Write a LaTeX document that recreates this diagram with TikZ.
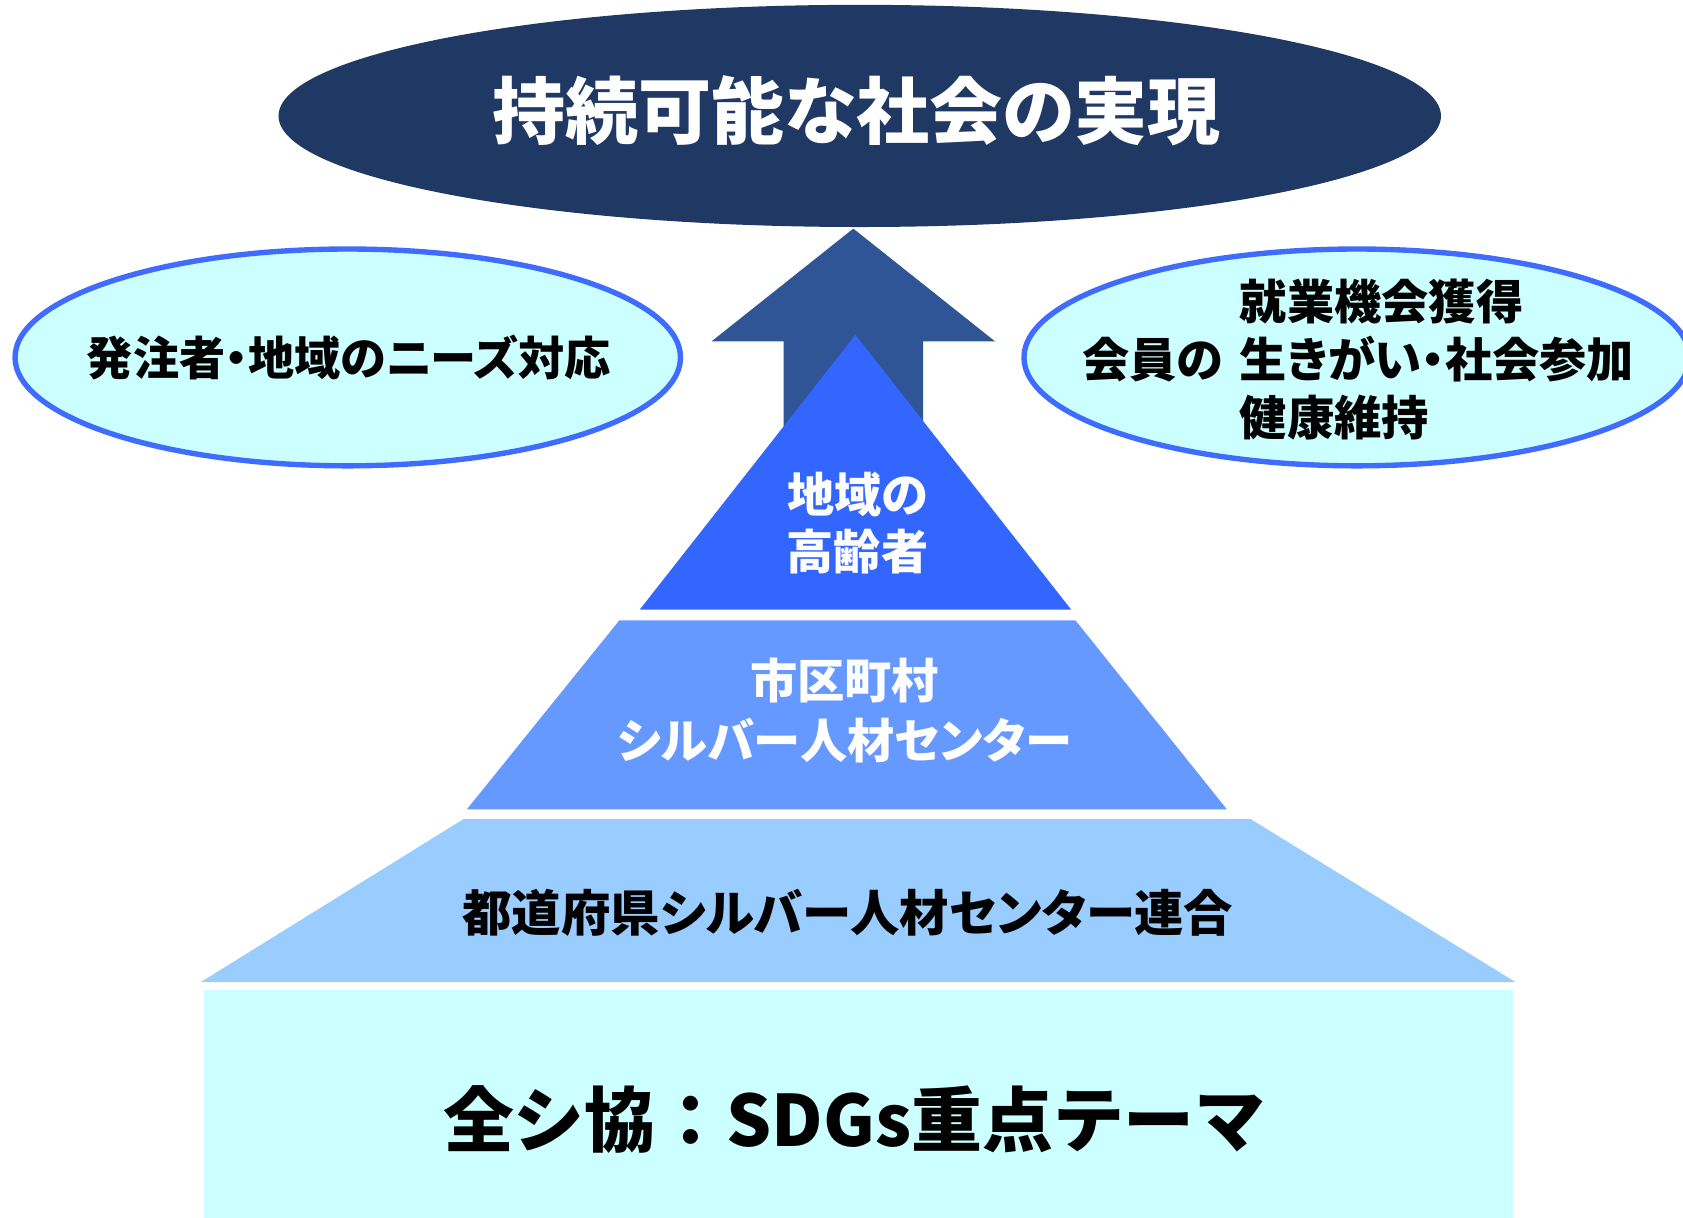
\documentclass[tikz,border=0pt]{standalone}
\usepackage{fontspec}
\setmainfont{Noto Sans CJK JP}[RawFeature={+palt}]
\newfontfamily\jpfull{Noto Sans CJK JP}
\usetikzlibrary{shapes.geometric}
\definecolor{navy}{HTML}{203864}
\definecolor{arrowblue}{HTML}{2F5597}
\definecolor{tierone}{HTML}{3366FF}
\definecolor{tiertwo}{HTML}{6699FF}
\definecolor{tierthree}{HTML}{99CCFF}
\definecolor{paleCyan}{HTML}{CCFFFF}
\definecolor{ringblue}{HTML}{3F6BFF}
\tikzset{
  txt/.style={font=\bfseries, inner sep=0pt, align=center},
  bubble/.style={ellipse, fill=paleCyan, draw=ringblue, line width=5pt, inner sep=0pt},
}
\begin{document}
\begin{tikzpicture}[x=1pt,y=-1pt]
\useasboundingbox (0,0) rectangle (1568,1134);
\clip (0,0) rectangle (1568,1134);
% base rectangle
\fill[paleCyan] (190,922) rectangle (1410,1140);
\node[txt, font=\jpfull\bfseries\fontsize{66}{70}\selectfont] (theme) at (796,1043) {全シ協：SDGs重点テーマ};
% bottom tier
\fill[tierthree] (187,915) -- (432,763) -- (1165,763) -- (1412,915) -- cycle;
\node[txt, font=\bfseries\fontsize{46}{54}\selectfont] (rengo) at (790,850) {都道府県シルバー人材センター連合};
% middle tier
\fill[tiertwo] (435,754) -- (577,578) -- (1002,578) -- (1143,754) -- cycle;
\node[txt, text=white, font=\bfseries\fontsize{44}{56}\selectfont] (center) at (787,662) {市区町村\\シルバー人材センター};
% arrow
\fill[arrowblue] (795,213) -- (927,318) -- (860,318) -- (860,500) -- (730,500) -- (730,318) -- (663,318) -- cycle;
% top tier
\fill[tierone] (596,568) -- (797,312) -- (998,568) -- cycle;
\node[txt, text=white, font=\bfseries\fontsize{44}{53}\selectfont] (elder) at (799,487) {地域の\\高齢者};
% goal ellipse
\node[ellipse, fill=navy, minimum width=1083pt, minimum height=207pt, inner sep=0pt] (goal) at (801,108) {};
\node[txt, text=white, font=\bfseries\fontsize{68}{72}\selectfont] (goaltext) at (798,103) {持続可能な社会の実現};
% left bubble
\node[bubble, minimum width=620pt, minimum height=202pt] (needs) at (324,333) {};
\node[txt, font=\bfseries\fontsize{43}{50}\selectfont] (needstext) at (325,333) {発注者・地域のニーズ対応};
% right bubble
\node[bubble, minimum width=620pt, minimum height=202pt] (member) at (1264,333) {};
\node[txt, anchor=east, font=\bfseries\fontsize{44}{54}\selectfont] (membertext) at (1140,335) {会員の};
\node[txt, anchor=west, align=left, font=\bfseries\fontsize{44}{54}\selectfont] (benefits) at (1155,335) {就業機会獲得\\生きがい・社会参加\\健康維持};
\end{tikzpicture}
\end{document}
